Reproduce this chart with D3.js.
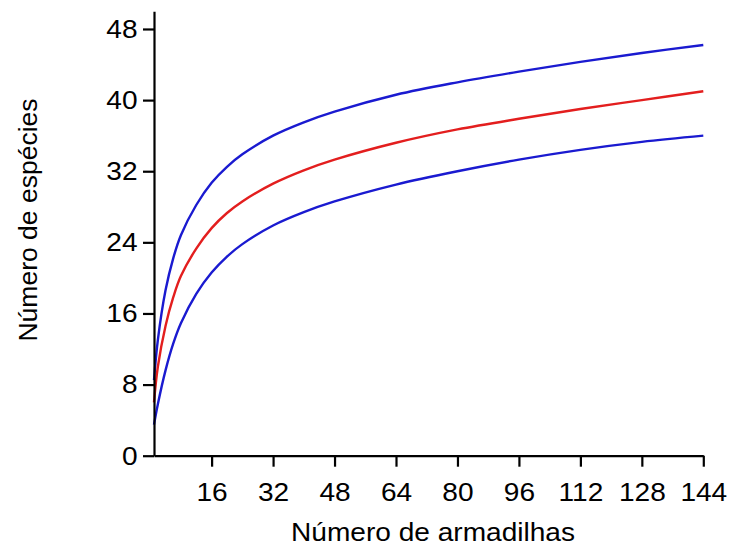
<!DOCTYPE html>
<html>
<head>
<meta charset="utf-8">
<script src="https://cdn.jsdelivr.net/npm/d3@7"></script>
<style>
  html, body { margin: 0; padding: 0; background: #fff; }
  svg { display: block; font-family: "Liberation Sans", Arial, sans-serif; }
</style>
</head>
<body>
<svg id="chart" width="731" height="547"></svg>
<script>
// Species accumulation (rarefaction) with upper and lower confidence bounds
const traps        = [1, 2, 4, 6, 8, 12, 16, 20, 24, 32, 40, 48, 64, 80, 96, 112, 128, 144];
const speciesMean  = [6.0, 10.0, 14.6, 17.8, 20.2, 23.3, 25.6, 27.3, 28.6, 30.6, 32.1, 33.3, 35.2, 36.7, 37.9, 39.0, 40.0, 41.0];
const speciesUpper = [8.5, 13.0, 18.6, 22.2, 24.8, 28.2, 30.7, 32.5, 33.9, 36.0, 37.5, 38.7, 40.6, 42.0, 43.2, 44.3, 45.3, 46.2];
const speciesLower = [3.5, 5.8, 9.6, 12.6, 14.9, 18.2, 20.6, 22.4, 23.8, 25.9, 27.4, 28.6, 30.5, 32.0, 33.3, 34.4, 35.3, 36.0];
const xTicks = [16, 32, 48, 64, 80, 96, 112, 128, 144];
const yTicks = [0, 8, 16, 24, 32, 40, 48];
const xTitle = "Número de armadilhas";
const yTitle = "Número de espécies";

const svg = d3.select("#chart");
const fontSize = 26;
const stretch = 1.08;

const x = d3.scaleLinear().domain([1, 144]).range([154, 703.3]);
const y = d3.scaleLinear().domain([0, 50]).range([455.7, 11.2]);

// Curves
const line = d3.line()
  .x((d, i) => x(traps[i]))
  .y(d => y(d))
  .curve(d3.curveCatmullRom.alpha(0.5));

const series = [
  { values: speciesUpper, color: "#1a1ad0" },
  { values: speciesLower, color: "#1a1ad0" },
  { values: speciesMean,  color: "#e31e1e" }
];

svg.append("g").selectAll("path")
  .data(series)
  .join("path")
  .attr("d", s => line(s.values))
  .attr("fill", "none")
  .attr("stroke", s => s.color)
  .attr("stroke-width", 2.4);

// Axes
const xAxis = d3.axisBottom(x).tickValues(xTicks).tickSize(11).tickSizeOuter(0).tickPadding(16);
const yAxis = d3.axisLeft(y).tickValues(yTicks).tickSize(11).tickSizeOuter(0).tickPadding(5);

const gx = svg.append("g").attr("transform", `translate(0,${y(0)})`).call(xAxis);
const gy = svg.append("g").attr("transform", `translate(${x(1)},0)`).call(yAxis);

[gx, gy].forEach(g => {
  g.select(".domain").attr("stroke", "#000").attr("stroke-width", 2.2);
  g.selectAll(".tick line").attr("stroke", "#000").attr("stroke-width", 2.2);
  g.selectAll(".tick text")
    .attr("fill", "#000")
    .style("font-size", fontSize + "px")
    .style("font-family", "'Liberation Sans', Arial, sans-serif");
});

gx.selectAll(".tick text").attr("transform", `scale(${stretch},1)`);
gy.selectAll(".tick text")
  .attr("x", null)
  .attr("transform", `translate(-16.5,0) scale(${stretch},1)`);

// Axis titles
svg.append("text")
  .attr("transform", `translate(433,541) scale(${stretch},1)`)
  .attr("text-anchor", "middle")
  .style("font-size", fontSize + "px")
  .attr("fill", "#000")
  .text(xTitle);

svg.append("text")
  .attr("transform", "translate(37,220) rotate(-90)")
  .attr("text-anchor", "middle")
  .style("font-size", "26.5px")
  .attr("fill", "#000")
  .text(yTitle);
</script>
</body>
</html>
